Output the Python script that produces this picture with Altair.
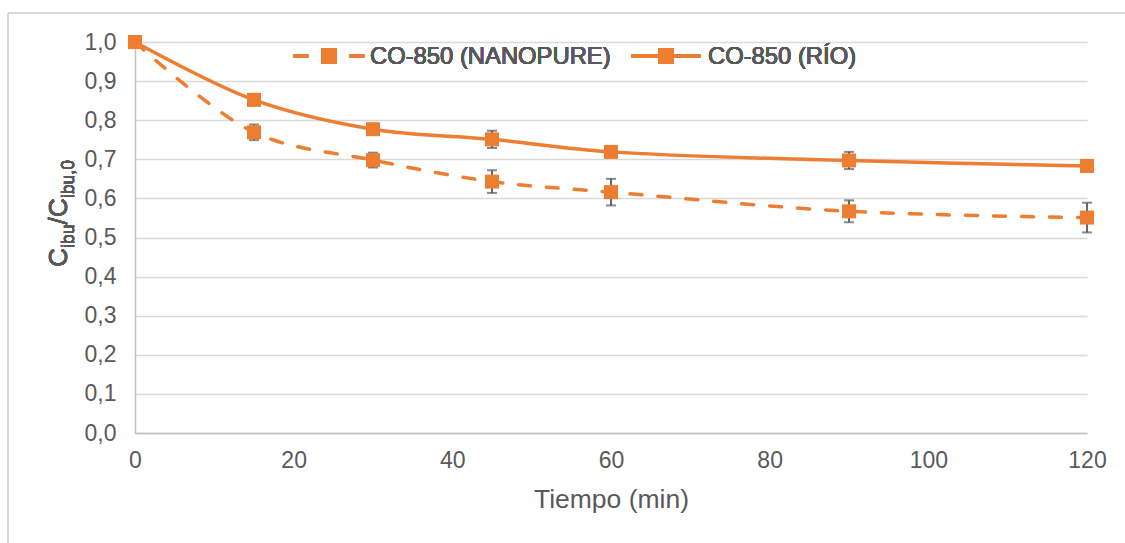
import altair as alt
import pandas as pd

# Ibuprofen removal with CO-850 in two water matrices
tiempo = [0, 15, 30, 45, 60, 90, 120]
nanopure = [1.0, 0.769, 0.698, 0.643, 0.616, 0.567, 0.551]
nanopure_err = [0.0, 0.020, 0.019, 0.029, 0.034, 0.028, 0.038]
rio = [1.0, 0.852, 0.777, 0.751, 0.719, 0.697, 0.683]
rio_err = [0.0, 0.0, 0.0, 0.022, 0.0, 0.022, 0.0]

series_names = ["CO-850 (NANOPURE)", "CO-850 (RÍO)"]
y_ticks = [0.0, 0.1, 0.2, 0.3, 0.4, 0.5, 0.6, 0.7, 0.8, 0.9, 1.0]
x_ticks = [0, 20, 40, 60, 80, 100, 120]

ORANGE = "#ED7D31"
TEXT = "#595959"
GRID = "#D9D9D9"
AXIS = "#BFBFBF"
FONT = "Liberation Sans"

W, H = 952, 391

rows = []
for name, vals, errs in [(series_names[0], nanopure, nanopure_err),
                         (series_names[1], rio, rio_err)]:
    for t, v, e in zip(tiempo, vals, errs):
        rows.append({"serie": name, "t": t, "c": v, "lo": v - e, "hi": v + e, "err": e})
df = pd.DataFrame(rows)

x_axis = alt.Axis(
    values=x_ticks, grid=False, ticks=False, tickSize=0,
    domainColor=AXIS, domainWidth=1.5,
    labelFontSize=23, labelColor=TEXT, labelFont=FONT, labelPadding=16,
    labelFlush=False, labelOverlap=False,
    title="Tiempo (min)", titleFontSize=26.5, titleFont=FONT,
    titleFontWeight="normal", titleColor=TEXT,
    titleY=66, titleBaseline="middle",
)
y_axis = alt.Axis(
    values=y_ticks, tickCount=11, grid=True, gridColor=GRID, gridWidth=1.5,
    ticks=False, tickSize=0, domainColor=AXIS, domainWidth=1.5,
    labelFontSize=23, labelColor=TEXT, labelFont=FONT, labelPadding=19,
    labelFlush=False, labelOverlap=False,
    labelExpr="replace(format(datum.value, '.1f'), '.', ',')",
    title=None,
)
x_scale = alt.Scale(domain=[0, 120], nice=False)
y_scale = alt.Scale(domain=[0, 1], nice=False)


def X(field="t"):
    return alt.X(f"{field}:Q", scale=x_scale, axis=x_axis)


def Y(field="c"):
    return alt.Y(f"{field}:Q", scale=y_scale, axis=y_axis)


nano_df = df[df.serie == series_names[0]]
rio_df = df[df.serie == series_names[1]]

nano_line = alt.Chart(nano_df).mark_line(
    color=ORANGE, strokeWidth=3.5, strokeDash=[12, 16], strokeCap="round",
    interpolate="catmull-rom",
).encode(x=X(), y=Y())

rio_line = alt.Chart(rio_df).mark_line(
    color=ORANGE, strokeWidth=3.5, interpolate="catmull-rom",
).encode(x=X(), y=Y())

err_df = df[df.err > 0]
err_rule = alt.Chart(err_df).mark_rule(color=TEXT, strokeWidth=1.8).encode(
    x=X(), y=Y("lo"), y2="hi:Q"
)
err_cap_lo = alt.Chart(err_df).mark_tick(color=TEXT, thickness=2, size=10, orient="horizontal").encode(
    x=X(), y=Y("lo")
)
err_cap_hi = alt.Chart(err_df).mark_tick(color=TEXT, thickness=2, size=10, orient="horizontal").encode(
    x=X(), y=Y("hi")
)

markers = alt.Chart(df).mark_point(
    shape="square", filled=True, color=ORANGE, size=196, opacity=1
).encode(x=X(), y=Y())

# Legend drawn inside the plot area, along the top
leg_y = 14
leg_dash_a = alt.Chart(df).mark_rule(color=ORANGE, strokeWidth=3.5, strokeCap="round").encode(
    x=alt.value(160), x2=alt.value(172), y=alt.value(leg_y)
)
leg_dash_b = alt.Chart(df).mark_rule(color=ORANGE, strokeWidth=3.5, strokeCap="round").encode(
    x=alt.value(216), x2=alt.value(228), y=alt.value(leg_y)
)
leg_sq_a = alt.Chart(df).mark_point(shape="square", filled=True, color=ORANGE, size=225, opacity=1).encode(
    x=alt.value(194), y=alt.value(leg_y)
)
leg_txt_a = alt.Chart(df).mark_text(
    text=series_names[0], align="left", baseline="middle",
    fontSize=23.8, font=FONT, color=TEXT,
).encode(x=alt.value(235), y=alt.value(leg_y + 1))

leg_line_b = alt.Chart(df).mark_rule(color=ORANGE, strokeWidth=3.5).encode(
    x=alt.value(496), x2=alt.value(566), y=alt.value(leg_y)
)
leg_sq_b = alt.Chart(df).mark_point(shape="square", filled=True, color=ORANGE, size=225, opacity=1).encode(
    x=alt.value(531), y=alt.value(leg_y)
)
leg_txt_b = alt.Chart(df).mark_text(
    text=series_names[1], align="left", baseline="middle",
    fontSize=23.8, font=FONT, color=TEXT,
).encode(x=alt.value(573), y=alt.value(leg_y + 1))

# Rotated y-axis title C_ibu / C_ibu,0 with subscripts
main_fs, sub_fs = 26.5, 17.5
main_x, sub_x = -68, -61
y0 = 225
pieces = [("C", main_fs, main_x, 0.722), ("ibu", sub_fs, sub_x, 1.334),
          ("/", main_fs, main_x, 0.278), ("C", main_fs, main_x, 0.722),
          ("ibu,0", sub_fs, sub_x, 2.168)]
title_layers = []
pos = y0
for txt, fs, xx, em in pieces:
    title_layers.append(
        alt.Chart(df).mark_text(
            text=txt, angle=270, align="left", baseline="alphabetic",
            fontSize=fs, font=FONT, color=TEXT,
        ).encode(x=alt.value(xx), y=alt.value(pos))
    )
    pos -= em * fs

# Outer frame of the chart area (top and left edges)
frame_top = alt.Chart(df).mark_rule(color=GRID, strokeWidth=2).encode(
    x=alt.value(-127), x2=alt.value(990), y=alt.value(-29)
)
frame_left = alt.Chart(df).mark_rule(color=GRID, strokeWidth=2).encode(
    x=alt.value(-127), y=alt.value(-29), y2=alt.value(510)
)

chart = alt.layer(
    frame_top, frame_left,
    nano_line, rio_line,
    err_rule, err_cap_lo, err_cap_hi,
    markers,
    leg_dash_a, leg_dash_b, leg_sq_a, leg_txt_a,
    leg_line_b, leg_sq_b, leg_txt_b,
    *title_layers,
).properties(
    width=W, height=H,
    autosize=alt.AutoSizeParams(type="none"),
    padding={"left": 135, "top": 42, "right": 38, "bottom": 110},
    background="white",
).configure_view(stroke=None)

chart.save("out.html", embed_options={"renderer": "svg", "actions": False})
